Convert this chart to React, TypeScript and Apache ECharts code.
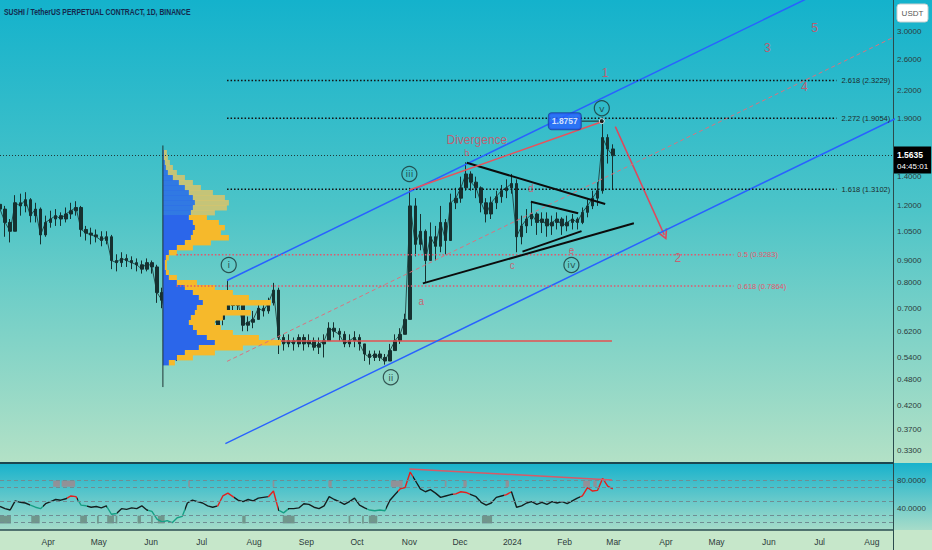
import React, { useEffect, useRef } from 'react';
import * as echarts from 'echarts';

const DAY = 86400000;
const T = (s: string) => Date.parse(s + 'T00:00:00Z');
const L = Math.log;

const FONT = '"Liberation Sans", Arial, sans-serif';
const TITLE = 'SUSHI / TetherUS PERPETUAL CONTRACT, 1D, BINANCE';

const VIEW_MIN = Date.parse('2023-03-03T12:00:00Z');
const VIEW_MAX = Date.parse('2024-08-13T12:00:00Z');

const FIRST_BAR = '2023-03-03';
const BAR_DAYS = 3;

// [open, close, low, high] every 3 days
const OHLC: number[][] = [
  [1.21, 1.18, 1.15, 1.24], [1.18, 1.10, 1.02, 1.20], [1.10, 1.05, 0.99, 1.12], [1.05, 1.22, 1.05, 1.27],
  [1.22, 1.20, 1.14, 1.28], [1.20, 1.24, 1.16, 1.29], [1.24, 1.14, 1.10, 1.25], [1.14, 1.18, 1.10, 1.22],
  [1.18, 1.03, 0.98, 1.19], [1.03, 1.10, 1.02, 1.14], [1.10, 1.12, 1.07, 1.17], [1.12, 1.14, 1.08, 1.18],
  [1.14, 1.12, 1.08, 1.16], [1.12, 1.15, 1.10, 1.19], [1.15, 1.17, 1.12, 1.22], [1.17, 1.19, 1.14, 1.23],
  [1.19, 1.06, 1.02, 1.20], [1.06, 1.04, 1.00, 1.08], [1.04, 1.03, 0.98, 1.07], [1.03, 1.02, 0.99, 1.06],
  [1.02, 1.00, 0.97, 1.05], [1.00, 1.02, 0.98, 1.05], [1.02, 0.90, 0.86, 1.03], [0.90, 0.89, 0.85, 0.93],
  [0.89, 0.91, 0.87, 0.94], [0.91, 0.90, 0.87, 0.93], [0.90, 0.89, 0.86, 0.92], [0.89, 0.88, 0.85, 0.91],
  [0.88, 0.86, 0.84, 0.90], [0.86, 0.89, 0.85, 0.91], [0.89, 0.87, 0.84, 0.90], [0.87, 0.76, 0.72, 0.88],
  [0.76, 0.73, 0.70, 0.78], [0.73, 0.66, 0.60, 0.74], [0.66, 0.58, 0.53, 0.67], [0.58, 0.56, 0.53, 0.60],
  [0.56, 0.58, 0.55, 0.62], [0.58, 0.60, 0.57, 0.63], [0.60, 0.66, 0.60, 0.70], [0.66, 0.64, 0.61, 0.68],
  [0.64, 0.63, 0.61, 0.66], [0.63, 0.65, 0.62, 0.67], [0.65, 0.64, 0.62, 0.67], [0.64, 0.66, 0.63, 0.68],
  [0.66, 0.68, 0.64, 0.70], [0.68, 0.72, 0.68, 0.81], [0.72, 0.71, 0.69, 0.75], [0.71, 0.72, 0.69, 0.74],
  [0.72, 0.64, 0.62, 0.73], [0.64, 0.65, 0.62, 0.67], [0.65, 0.66, 0.63, 0.69], [0.66, 0.70, 0.66, 0.72],
  [0.70, 0.69, 0.67, 0.72], [0.69, 0.72, 0.68, 0.74], [0.72, 0.77, 0.71, 0.80], [0.77, 0.60, 0.55, 0.78],
  [0.60, 0.58, 0.56, 0.61], [0.58, 0.59, 0.57, 0.61], [0.59, 0.58, 0.56, 0.60], [0.58, 0.60, 0.57, 0.61],
  [0.60, 0.58, 0.56, 0.61], [0.58, 0.59, 0.57, 0.61], [0.59, 0.57, 0.56, 0.60], [0.57, 0.58, 0.55, 0.60],
  [0.58, 0.59, 0.54, 0.61], [0.59, 0.63, 0.59, 0.65], [0.63, 0.62, 0.60, 0.65], [0.62, 0.61, 0.59, 0.63],
  [0.61, 0.58, 0.57, 0.62], [0.58, 0.59, 0.57, 0.61], [0.59, 0.60, 0.57, 0.62], [0.60, 0.58, 0.56, 0.61],
  [0.58, 0.55, 0.53, 0.58], [0.55, 0.54, 0.52, 0.56], [0.54, 0.55, 0.53, 0.56], [0.55, 0.54, 0.53, 0.56],
  [0.54, 0.53, 0.52, 0.55], [0.53, 0.56, 0.53, 0.58], [0.56, 0.59, 0.56, 0.61], [0.59, 0.61, 0.58, 0.63],
  [0.61, 0.66, 0.61, 0.68], [0.66, 1.20, 0.66, 1.32], [1.20, 0.98, 0.92, 1.25], [0.98, 1.05, 0.95, 1.15],
  [1.05, 0.90, 0.80, 1.06], [0.90, 1.02, 0.90, 1.10], [1.02, 0.97, 0.90, 1.08], [0.97, 1.10, 0.94, 1.20],
  [1.10, 1.00, 0.93, 1.12], [1.00, 1.22, 1.00, 1.28], [1.22, 1.25, 1.18, 1.32], [1.25, 1.32, 1.22, 1.40],
  [1.32, 1.42, 1.30, 1.51], [1.42, 1.36, 1.30, 1.44], [1.36, 1.32, 1.25, 1.40], [1.32, 1.22, 1.16, 1.33],
  [1.22, 1.15, 1.10, 1.25], [1.15, 1.22, 1.12, 1.26], [1.22, 1.26, 1.18, 1.30], [1.26, 1.30, 1.22, 1.34],
  [1.30, 1.32, 1.25, 1.38], [1.32, 1.35, 1.28, 1.42], [1.35, 1.02, 0.94, 1.38], [1.02, 1.08, 0.98, 1.14],
  [1.08, 1.12, 1.04, 1.18], [1.12, 1.15, 1.08, 1.22], [1.15, 1.10, 1.03, 1.16], [1.10, 1.12, 1.04, 1.16],
  [1.12, 1.08, 1.02, 1.16], [1.08, 1.10, 1.03, 1.14], [1.10, 1.12, 1.06, 1.16], [1.12, 1.08, 1.03, 1.13],
  [1.08, 1.10, 1.05, 1.14], [1.10, 1.12, 1.06, 1.15], [1.12, 1.10, 1.06, 1.13], [1.10, 1.16, 1.09, 1.19],
  [1.16, 1.20, 1.13, 1.24], [1.20, 1.25, 1.18, 1.30], [1.25, 1.30, 1.20, 1.36], [1.30, 1.72, 1.28, 1.8757],
  [1.72, 1.62, 1.50, 1.75], [1.62, 1.5635, 1.31, 1.66],
];

const RSI = [
  43, 40, 38, 51, 49, 48, 45, 42, 40, 47, 50, 53, 52, 54, 58, 57, 45, 44, 42, 43,
  41, 44, 32, 33, 40, 39, 41, 40, 44, 38, 36, 25, 21, 23, 20, 27, 29, 48, 52, 50,
  48, 44, 42, 44, 58, 62, 57, 52, 50, 53, 51, 55, 56, 57, 65, 38, 34, 40, 40, 41,
  47, 46, 42, 40, 44, 57, 53, 50, 46, 50, 55, 45, 41, 38, 37, 38, 37, 52, 60, 68,
  70, 92, 80, 68, 64, 67, 62, 56, 58, 60, 61, 64, 63, 60, 57, 49, 45, 48, 56, 58,
  60, 64, 42, 44, 48, 50, 46, 49, 46, 50, 48, 50, 47, 51, 55, 58, 70, 65, 66, 83,
  72, 68,
];

const RSI_RED_SPANS = [
  ['2023-04-12', '2023-04-18'], ['2023-07-10', '2023-07-20'], ['2023-08-09', '2023-08-15'],
  ['2023-10-25', '2023-11-03'], ['2023-11-27', '2023-12-07'], ['2023-12-27', '2023-12-31'],
  ['2024-02-10', '2024-03-01'],
];
const RSI_GREEN_SPANS = [
  ['2023-03-21', '2023-03-29'], ['2023-04-19', '2023-04-24'], ['2023-05-06', '2023-05-12'],
  ['2023-05-30', '2023-06-21'], ['2023-08-16', '2023-08-21'], ['2023-10-07', '2023-10-18'],
];
const RSI_LEVELS = [80, 70, 50, 30, 20];
const RSI_TICKS = [40, 80];
const RSI_HIGH_MARKS = [
  ['2023-04-04', '2023-04-08'], ['2023-04-09', '2023-04-17'], ['2023-06-23', '2023-06-24'],
  ['2023-08-12', '2023-08-13'], ['2023-09-14', '2023-09-16'], ['2023-10-21', '2023-10-28'],
  ['2023-11-22', '2023-11-23'], ['2023-12-03', '2023-12-05'], ['2023-12-28', '2023-12-30'],
  ['2024-02-12', '2024-02-16'], ['2024-02-18', '2024-02-20'],
];
const RSI_LOW_MARKS = [
  ['2023-03-03', '2023-03-10'], ['2023-03-22', '2023-03-27'], ['2023-04-20', '2023-04-24'],
  ['2023-04-30', '2023-05-01'], ['2023-05-06', '2023-05-10'], ['2023-05-11', '2023-05-12'],
  ['2023-05-24', '2023-05-26'], ['2023-06-01', '2023-06-02'], ['2023-06-05', '2023-06-09'],
  ['2023-07-25', '2023-07-27'], ['2023-08-18', '2023-08-25'], ['2023-09-26', '2023-09-27'],
  ['2023-10-04', '2023-10-05'], ['2023-10-08', '2023-10-13'], ['2023-12-14', '2023-12-20'],
];
const RSI_HIGH_BAND = [71, 80];
const RSI_LOW_BAND = [19, 30];
const RSI_DIVERGENCE = [['2023-11-01', 96.4], ['2024-02-29', 80.7]];

const PRICE_TICKS = [3.0, 2.6, 2.2, 1.9, 1.4, 1.2, 1.05, 0.9, 0.8, 0.7, 0.62, 0.54, 0.48, 0.42, 0.37, 0.33];
const MONTH_TICKS = [
  '2023-04-01', '2023-05-01', '2023-06-01', '2023-07-01', '2023-08-01', '2023-09-01', '2023-10-01',
  '2023-11-01', '2023-12-01', '2024-01-01', '2024-02-01', '2024-03-01', '2024-04-01', '2024-05-01',
  '2024-06-01', '2024-07-01', '2024-08-01',
];
const MONTH_LABELS = ['Apr', 'May', 'Jun', 'Jul', 'Aug', 'Sep', 'Oct', 'Nov', 'Dec', '2024', 'Feb', 'Mar', 'Apr', 'May', 'Jun', 'Jul', 'Aug'];

const LAST_PRICE = 1.5635;
const LAST_TIMER = '04:45:01';

// volume profile (rows top -> bottom)
const PROFILE_ANCHOR = '2023-06-08';
const PROFILE_TOP = 1.611;
const PROFILE_BOTTOM = 0.519;
const VALUE_AREA_HIGH = 1.144;
const PROFILE_UP = [1, 1, 2, 3, 5, 10, 16, 22, 26, 30, 32, 30, 28, 26, 30, 32, 30, 28, 22, 14, 6, 3, 2, 2, 3, 6, 14, 22, 30, 36, 40, 34, 32, 28, 26, 30, 34, 44, 52, 36, 22, 14, 6];
const PROFILE_DOWN = [3, 4, 5, 7, 9, 12, 14, 16, 24, 32, 34, 34, 24, 18, 26, 30, 28, 38, 26, 16, 8, 3, 2, 2, 3, 8, 20, 30, 40, 50, 68, 30, 56, 32, 26, 28, 36, 52, 66, 44, 30, 16, 6];
const PROFILE_LINE = [['2023-06-08', 1.65], ['2023-06-08', 0.462]];
const POC_LINE = [['2023-06-08', 0.589], ['2024-02-29', 0.589]];

const CHANNEL_UPPER = [['2023-07-16', 0.81], ['2024-07-04', 3.743]];
const CHANNEL_LOWER = [['2023-07-15', 0.343], ['2024-08-17', 1.917]];
const CHANNEL_MID = [['2023-07-16', 0.529], ['2024-08-17', 2.959]];

const FIB_BLACK = [
  { text: '2.618 (2.3229)', price: 2.3229 },
  { text: '2.272 (1.9054)', price: 1.9054 },
  { text: '1.618 (1.3102)', price: 1.3102 },
];
const FIB_BLACK_SPAN = ['2023-07-16', '2024-07-11'];
const FIB_RED = [
  { text: '0.5 (0.9283)', price: 0.9283 },
  { text: '0.618 (0.7864)', price: 0.7864 },
];
const FIB_RED_SPAN = ['2023-06-16', '2024-05-11'];

const TRIANGLE_LINES = [
  [['2023-12-05', 1.507], ['2024-02-25', 1.212]],
  [['2023-11-09', 0.798], ['2024-03-13', 1.095]],
  [['2024-01-12', 1.227], ['2024-02-09', 1.154]],
  [['2024-01-07', 0.943], ['2024-02-11', 1.051]],
];
const DIVERGENCE_LINE = [['2023-11-01', 1.305], ['2024-02-23', 1.87]];
const HIGH_POINT = ['2024-02-23', 1.8757];
const HIGH_CONNECTOR = [['2024-02-11', 1.8757], ['2024-02-23', 1.8757]];
const ARROW = [['2024-03-02', 1.822], ['2024-03-31', 1.03]];

const RED_TEXTS = [
  { t: 'Divergence', d: '2023-12-11', p: 1.698, size: 12 },
  { t: 'b', d: '2023-12-05', p: 1.586, size: 9 },
  { t: 'd', d: '2024-01-12', p: 1.317, size: 10 },
  { t: 'c', d: '2024-01-01', p: 0.876, size: 10 },
  { t: 'e', d: '2024-02-05', p: 0.951, size: 10 },
  { t: 'a', d: '2023-11-08', p: 0.7246, size: 10 },
  { t: '1', d: '2024-02-25', p: 2.413, size: 12 },
  { t: '2', d: '2024-04-08', p: 0.9105, size: 12 },
  { t: '3', d: '2024-05-31', p: 2.753, size: 12 },
  { t: '4', d: '2024-06-22', p: 2.242, size: 12 },
  { t: '5', d: '2024-06-28', p: 3.059, size: 12 },
];
const WAVE_CIRCLES = [
  { t: 'i', d: '2023-07-17', p: 0.879 },
  { t: 'ii', d: '2023-10-21', p: 0.4866 },
  { t: 'iii', d: '2023-11-01', p: 1.42 },
  { t: 'iv', d: '2024-02-05', p: 0.879 },
  { t: 'v', d: '2024-02-23', p: 2.007 },
];

// ---- layout / style constants ----
const W = 932, H = 550;
const AXIS_W = 39;
const MAIN_H = 463;
const RSI_H = 67;
const LN_MAX = 1.2672;
const LN_MIN = -1.1722;
const RSI_MIN = 9.6, RSI_MAX = 104.9;
const PROFILE_PX = 1;
const RED = '#e0475b';
const BAR_COLOR = '#163130';
const ARROW_PATH = 'path://M5 0L10 10L8.6 10.8L5 3.2L1.4 10.8L0 10Z';

function pt(d: string | number, p: number) {
  return [typeof d === 'string' ? T(d) : d, L(p)];
}

function buildOption() {
  const barTs = (i: number) => T(FIRST_BAR) + (i * BAR_DAYS + 0.5) * DAY;
  const monthTs = MONTH_TICKS.map(T);
  const series: any[] = [];

  const lineSeries = (pts: any[], style: any, extra: any = {}) => ({
    type: 'line',
    xAxisIndex: 0,
    yAxisIndex: 0,
    data: pts.map((q) => pt(q[0], q[1])),
    showSymbol: false,
    symbol: 'none',
    silent: true,
    z: 6,
    lineStyle: style,
    ...extra,
  });

  // candles
  series.push({
    type: 'candlestick',
    xAxisIndex: 0,
    yAxisIndex: 0,
    barWidth: 3,
    z: 2,
    encode: { x: 0, y: [1, 2, 3, 4] },
    data: OHLC.map((c, i) => [barTs(i), L(c[0]), L(c[1]), L(c[2]), L(c[3])]),
    itemStyle: { color: BAR_COLOR, color0: BAR_COLOR, borderColor: BAR_COLOR, borderColor0: BAR_COLOR, borderWidth: 1 },
    markLine: {
      silent: true,
      symbol: 'none',
      lineStyle: { color: '#203a3a', width: 1, type: [1, 2] },
      label: {
        show: true,
        position: 'end',
        distance: 1,
        offset: [0, 5],
        formatter: `{p|${LAST_PRICE.toFixed(4)}}\n{t|${LAST_TIMER}}`,
        backgroundColor: '#000',
        padding: [3, 3, 2, 3],
        rich: {
          p: { color: '#fff', fontSize: 8.5, fontWeight: 'bold', fontFamily: FONT, lineHeight: 11 },
          t: { color: '#fff', fontSize: 8, fontFamily: FONT, lineHeight: 11 },
        },
      },
      data: [{ yAxis: L(LAST_PRICE) }],
    },
  });
  // thin close path to give the dense daily-bar texture continuity
  series.push({
    type: 'line',
    xAxisIndex: 0,
    yAxisIndex: 0,
    z: 2,
    silent: true,
    showSymbol: false,
    symbol: 'none',
    data: OHLC.map((c, i) => [barTs(i), L(c[1])]),
    lineStyle: { color: BAR_COLOR, width: 0.8 },
  });

  // POC line (under the profile)
  series.push(lineSeries(POC_LINE, { color: '#e45050', width: 1.5 }, { z: 3 }));

  // volume profile
  const step = (L(PROFILE_TOP) - L(PROFILE_BOTTOM)) / PROFILE_UP.length;
  series.push({
    type: 'custom',
    xAxisIndex: 0,
    yAxisIndex: 0,
    z: 4,
    silent: true,
    encode: { x: 0, y: [1, 2] },
    data: PROFILE_UP.map((u, k) => {
      const top = L(PROFILE_TOP) - k * step;
      const bot = top - step;
      const va = Math.exp((top + bot) / 2) <= VALUE_AREA_HIGH ? 1 : 0;
      return [T(PROFILE_ANCHOR), top, bot, u, PROFILE_DOWN[k], va];
    }),
    renderItem: (params: any, api: any) => {
      const a = api.coord([api.value(0), api.value(1)]);
      const b = api.coord([api.value(0), api.value(2)]);
      const up = api.value(3) * PROFILE_PX;
      const dn = api.value(4) * PROFILE_PX;
      const va = api.value(5) === 1;
      const h = b[1] - a[1] + 0.4;
      return {
        type: 'group',
        children: [
          { type: 'rect', shape: { x: a[0], y: a[1], width: up, height: h }, style: { fill: va ? '#2b66ea' : 'rgba(43,102,234,0.8)' } },
          { type: 'rect', shape: { x: a[0] + up, y: a[1], width: dn, height: h }, style: { fill: va ? '#f6b92b' : 'rgba(228,196,100,0.8)' } },
        ],
      };
    },
  });

  series.push(lineSeries(PROFILE_LINE, { color: '#1e3434', width: 1 }, { z: 5 }));

  // channel
  series.push(lineSeries(CHANNEL_UPPER, { color: '#2962ff', width: 1.5 }));
  series.push(lineSeries(CHANNEL_LOWER, { color: '#2962ff', width: 1.5 }));
  series.push(lineSeries(CHANNEL_MID, { color: '#d9737f', width: 1, type: [4, 3] }));

  // fib levels
  FIB_BLACK.forEach((f) => {
    series.push(
      lineSeries(
        [[FIB_BLACK_SPAN[0], f.price], [FIB_BLACK_SPAN[1], f.price]],
        { color: '#111', width: 1.5, type: [1.5, 2] },
        { endLabel: { show: true, formatter: f.text, distance: 5, color: '#1d2a2a', fontSize: 7.5, fontFamily: FONT } }
      )
    );
  });
  FIB_RED.forEach((f) => {
    series.push(
      lineSeries(
        [[FIB_RED_SPAN[0], f.price], [FIB_RED_SPAN[1], f.price]],
        { color: '#e2566c', width: 1.5, type: [1.5, 2] },
        { endLabel: { show: true, formatter: f.text, distance: 4, color: '#e2566c', fontSize: 7.5, fontFamily: FONT } }
      )
    );
  });

  TRIANGLE_LINES.forEach((seg) => series.push(lineSeries(seg, { color: '#0c0c0c', width: 2 })));
  series.push(lineSeries(DIVERGENCE_LINE, { color: '#e8525c', width: 1.5 }));
  series.push(lineSeries(HIGH_CONNECTOR, { color: '#222', width: 1 }));

  // arrow
  series.push({
    type: 'lines',
    coordinateSystem: 'cartesian2d',
    xAxisIndex: 0,
    yAxisIndex: 0,
    z: 6,
    silent: true,
    symbol: ['none', ARROW_PATH],
    symbolSize: [10, 11],
    lineStyle: { color: RED, width: 1.5, opacity: 1 },
    data: [{ coords: ARROW.map((q) => pt(q[0] as string, q[1] as number)) }],
  });

  // red texts
  series.push({
    type: 'scatter',
    xAxisIndex: 0,
    yAxisIndex: 0,
    z: 7,
    silent: true,
    symbolSize: 1,
    itemStyle: { color: 'rgba(0,0,0,0)' },
    data: RED_TEXTS.map((r) => ({
      name: r.t,
      value: pt(r.d, r.p),
      label: {
        show: true,
        position: 'inside',
        formatter: r.t,
        color: RED,
        fontSize: r.size,
        fontFamily: FONT,
      },
    })),
  });

  // wave circles
  series.push({
    type: 'scatter',
    xAxisIndex: 0,
    yAxisIndex: 0,
    z: 7,
    silent: true,
    symbol: 'circle',
    symbolSize: 15,
    itemStyle: { color: 'rgba(0,0,0,0)', borderColor: '#1a3534', borderWidth: 1.2 },
    label: { show: true, position: 'inside', formatter: '{b}', color: '#1a3534', fontSize: 9.5, fontFamily: '"DejaVu Sans", sans-serif' },
    data: WAVE_CIRCLES.map((c) => ({ name: c.t, value: pt(c.d, c.p) })),
  });

  // high point with value box
  series.push({
    type: 'scatter',
    xAxisIndex: 0,
    yAxisIndex: 0,
    z: 8,
    silent: true,
    symbol: 'circle',
    symbolSize: 5,
    itemStyle: { color: '#111', borderColor: '#fff', borderWidth: 1 },
    label: {
      show: true,
      position: 'left',
      distance: 18,
      formatter: HIGH_POINT[1].toString(),
      color: '#fff',
      fontSize: 8.5,
      fontWeight: 'bold',
      fontFamily: FONT,
      backgroundColor: '#2962ff',
      borderColor: '#163c9c',
      borderWidth: 1,
      borderRadius: 3,
      padding: [4, 3, 3, 3],
    },
    data: [pt(HIGH_POINT[0] as string, HIGH_POINT[1] as number)],
  });

  // RSI
  const rsiIndex = series.length;
  series.push({
    type: 'line',
    xAxisIndex: 1,
    yAxisIndex: 1,
    z: 4,
    silent: true,
    showSymbol: false,
    symbol: 'none',
    data: RSI.map((v, i) => [barTs(i), v]),
    lineStyle: { width: 1.4 },
    markLine: {
      silent: true,
      symbol: 'none',
      label: { show: false },
      lineStyle: { color: '#6f8d93', width: 1, type: [4, 3] },
      data: RSI_LEVELS.map((v) => ({ yAxis: v })),
    },
  });
  series.push({
    type: 'custom',
    xAxisIndex: 1,
    yAxisIndex: 1,
    z: 3,
    silent: true,
    encode: { x: [0, 1], y: [2, 3] },
    data: [
      ...RSI_HIGH_MARKS.map((m) => [T(m[0]), T(m[1]), RSI_HIGH_BAND[0], RSI_HIGH_BAND[1], 1]),
      ...RSI_LOW_MARKS.map((m) => [T(m[0]), T(m[1]), RSI_LOW_BAND[0], RSI_LOW_BAND[1], 0]),
    ],
    renderItem: (params: any, api: any) => {
      const a = api.coord([api.value(0), api.value(3)]);
      const b = api.coord([api.value(1), api.value(2)]);
      return {
        type: 'rect',
        shape: { x: a[0], y: a[1], width: Math.max(1.5, b[0] - a[0]), height: b[1] - a[1] },
        style: { fill: api.value(4) === 1 ? 'rgba(160,136,142,0.85)' : 'rgba(104,134,124,0.8)' },
      };
    },
  });
  series.push({
    type: 'line',
    xAxisIndex: 1,
    yAxisIndex: 1,
    z: 5,
    silent: true,
    showSymbol: false,
    symbol: 'none',
    data: RSI_DIVERGENCE.map((q) => [T(q[0] as string), q[1]]),
    lineStyle: { color: '#d75a68', width: 1.5 },
  });

  const pieces = [
    ...RSI_RED_SPANS.map((s) => ({ min: T(s[0]), max: T(s[1]), color: '#e3201e' })),
    ...RSI_GREEN_SPANS.map((s) => ({ min: T(s[0]), max: T(s[1]), color: '#16a085' })),
  ];

  const axisText = { color: '#2d3b3b', fontSize: 8, fontFamily: FONT };

  return {
    animation: false,
    backgroundColor: '#c6e7ca',
    textStyle: { fontFamily: FONT },
    graphic: [
      {
        type: 'rect', z: -10, silent: true,
        shape: { x: 0, y: 0, width: W, height: MAIN_H },
        style: { fill: { type: 'linear', x: 0, y: 0, x2: 0, y2: 1, colorStops: [
          { offset: 0, color: '#14b2cc' }, { offset: 0.45, color: '#4cc4c8' }, { offset: 1, color: '#b3e1c6' },
        ] } },
      },
      {
        type: 'rect', z: -10, silent: true,
        shape: { x: 0, y: MAIN_H, width: W, height: RSI_H },
        style: { fill: { type: 'linear', x: 0, y: 0, x2: 0, y2: 1, colorStops: [
          { offset: 0, color: '#17b2cc' }, { offset: 1, color: '#a7dcc9' },
        ] } },
      },
      {
        type: 'rect', z: -10, silent: true,
        shape: { x: 0, y: MAIN_H + RSI_H, width: W, height: H - MAIN_H - RSI_H },
        style: { fill: '#c6e7ca' },
      },
      {
        type: 'line', z: 10, silent: true,
        shape: { x1: W - AXIS_W + 0.5, y1: MAIN_H + RSI_H, x2: W - AXIS_W + 0.5, y2: H },
        style: { stroke: '#2c4b4d', lineWidth: 1 },
      },
      {
        type: 'text', z: 10, silent: true, x: 4, y: 12, scaleX: 0.76,
        style: { text: TITLE, fill: '#142a4e', fontSize: 9, fontWeight: 'bold', fontFamily: FONT, verticalAlign: 'middle' },
      },
      {
        type: 'group', x: W - 35, y: 4, z: 10,
        children: [
          { type: 'rect', shape: { x: 0, y: 0, width: 31, height: 18, r: 3 }, style: { fill: '#fff', stroke: '#c8d0d0' } },
          { type: 'text', x: 15.5, y: 9, style: { text: 'USDT', fill: '#555', fontSize: 8, fontFamily: FONT, align: 'center', verticalAlign: 'middle' } },
        ],
      },
    ],
    grid: [
      { left: 0, right: AXIS_W, top: 0, height: MAIN_H },
      { left: 0, right: AXIS_W, top: MAIN_H, height: RSI_H },
    ],
    xAxis: [
      {
        type: 'value', gridIndex: 0, min: VIEW_MIN, max: VIEW_MAX,
        axisLine: { show: true, onZero: false, lineStyle: { color: '#1c4750', width: 2 } },
        axisTick: { show: false }, axisLabel: { show: false }, splitLine: { show: false },
      },
      {
        type: 'value', gridIndex: 1, min: VIEW_MIN, max: VIEW_MAX,
        axisLine: { show: true, onZero: false, lineStyle: { color: '#2b4e52', width: 1.5 } },
        axisTick: { show: false }, splitLine: { show: false },
        axisLabel: {
          ...axisText,
          fontSize: 8.5,
          margin: 7,
          customValues: monthTs,
          formatter: (v: number) => {
            const k = monthTs.indexOf(v);
            return k >= 0 ? MONTH_LABELS[k] : '';
          },
        },
      },
    ],
    yAxis: [
      {
        type: 'value', gridIndex: 0, position: 'right', min: LN_MIN, max: LN_MAX,
        axisLine: { show: true, lineStyle: { color: '#2c4b4d', width: 1 } },
        axisTick: { show: false }, splitLine: { show: false },
        axisLabel: {
          ...axisText,
          margin: 4,
          customValues: PRICE_TICKS.map(L),
          formatter: (v: number) => Math.exp(v).toFixed(4),
        },
      },
      {
        type: 'value', gridIndex: 1, position: 'right', min: RSI_MIN, max: RSI_MAX,
        axisLine: { show: true, lineStyle: { color: '#2c4b4d', width: 1 } },
        axisTick: { show: false }, splitLine: { show: false },
        axisLabel: {
          ...axisText,
          margin: 4,
          customValues: RSI_TICKS,
          formatter: (v: number) => v.toFixed(4),
        },
      },
    ],
    visualMap: [
      {
        type: 'piecewise',
        show: false,
        seriesIndex: rsiIndex,
        dimension: 0,
        pieces,
        outOfRange: { color: '#141f1f' },
      },
    ],
    series,
  };
}

export default function App() {
  const ref = useRef<HTMLDivElement>(null);
  useEffect(() => {
    const chart = echarts.init(ref.current as HTMLDivElement, undefined, { renderer: 'svg' });
    chart.setOption(buildOption() as any);
    return () => chart.dispose();
  }, []);
  return <div ref={ref} style={{ position: 'fixed', left: 0, top: 0, width: W, height: H }} />;
}
